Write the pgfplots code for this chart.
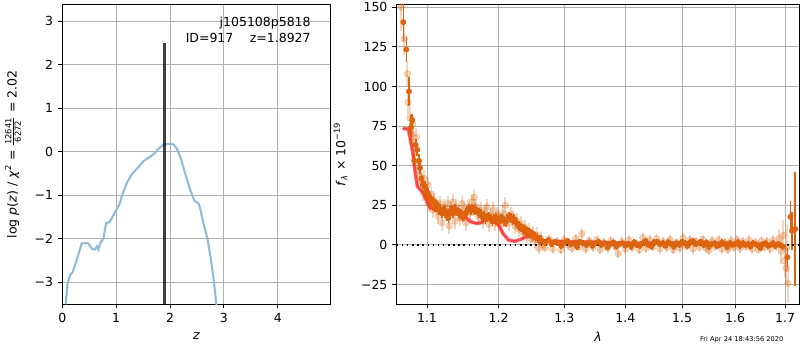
\documentclass[border=0pt]{standalone}
\usepackage{amsmath}
\usepackage{fontspec}
\setmainfont{DejaVu Sans}
\usepackage{pgfplots}
\usepackage{pgfplotstable}
\pgfplotsset{compat=1.18}
\definecolor{pzblue}{RGB}{143,187,217}
\definecolor{dorange}{RGB}{220,100,15}
\definecolor{gridgray}{RGB}{176,176,176}
\definecolor{modelred}{RGB}{255,40,40}

\pgfplotstableread{
z lp
0.062 -3.51
0.099 -3.03
0.143 -2.84
0.192 -2.77
0.254 -2.54
0.304 -2.34
0.36 -2.11
0.42 -2.10
0.484 -2.11
0.546 -2.23
0.608 -2.25
0.64 -2.18
0.67 -2.25
0.70 -2.11
0.763 -2.00
0.812 -1.64
0.874 -1.62
0.98 -1.39
1.06 -1.21
1.12 -0.965
1.197 -0.72
1.29 -0.52
1.414 -0.35
1.507 -0.214
1.60 -0.138
1.693 -0.061
1.786 0.069
1.879 0.16
1.97 0.18
2.065 0.168
2.127 0.069
2.19 -0.12
2.28 -0.50
2.375 -0.886
2.45 -1.12
2.53 -1.19
2.56 -1.31
2.62 -1.65
2.70 -2.03
2.76 -2.49
2.81 -2.95
2.86 -3.52
}\pz

\pgfplotstableread{
lam f
1.0680 73.5
1.0753 73.1
1.0810 58.9
1.0841 46.4
1.0871 37.1
1.0907 35.0
1.0951 32.9
1.0996 27.7
1.1040 23.5
1.1131 21.9
1.1267 20.4
1.1357 21.0
1.1427 22.5
1.1496 19.4
1.1591 14.75
1.1685 13.5
1.1757 14.1
1.1828 17.25
1.1866 18.3
1.1923 15.2
1.1996 12.7
1.2069 6.9
1.2143 3.1
1.2242 2.25
1.2342 3.75
1.2442 5.8
1.2518 5.8
1.2594 3.1
1.2723 2.25
1.2983 2.25
1.3521 1.6
1.4079 1.0
1.4661 1.25
1.5269 1.25
1.5900 1.0
1.6557 0.6
1.6829 0.0
1.7000 -1.5
}\model

\pgfplotstableread{
lam f e
1.0660 150 15
1.0700 130 10
1.0740 108 8
1.0750 90 8
1.0775 80 7
1.0800 70 7
1.0810 76 6
1.0820 65 6
1.0840 58 6
1.0860 68 6
1.0880 50 5
1.0900 44 5
1.0920 40 5
1.0950 33 5
1.0960 42 5
1.0990 30 5
1.1010 38 5
1.1030 26 5
1.1060 32 5
1.1080 22 5
1.1100 28 5
1.1120 24 5
1.1150 18 5
1.1170 26 5
1.1200 14 5
1.1230 24 5
1.1250 20 5
1.1280 26 5
1.1300 12 5
1.1330 22 5
1.1350 27 5
1.1380 15 5
1.1400 24 5
1.1430 20 5
1.1450 17 5
1.1480 26 5
1.1500 22 5
1.1530 14 5
1.1560 24 5
1.1590 20 5
1.1620 27 5
1.1650 30 5
1.1680 24 5
1.1710 18 5
1.1740 22 5
1.1770 15 5
1.1800 20 5
1.1830 24 5
1.1860 13 5
1.1890 18 5
1.1920 22 5
1.1950 14 5
1.1980 19 5
1.2010 17 5
1.2040 13 5
1.2070 20 5
1.2100 25 5
1.2120 16 5
1.2150 14 5
1.2180 19 5
1.2210 17 5
1.2240 12 5
1.2270 15 5
1.2300 10 5
1.2330 13 5
1.2360 8 5
1.2390 11 5
1.2420 6 5
1.2450 9 5
1.2480 4 5
1.2510 7 5
1.2540 3 5
1.2570 6 5
1.2600 -2 4
1.2630 4 4
1.2660 0 4
1.270 -1.5 3
1.276 3.5 3
1.282 -2.5 3
1.288 2.0 3
1.294 -3.0 3
1.300 3.0 3
1.306 0.0 3
1.312 -2.0 3
1.318 4.0 3
1.324 -1.0 3
1.328 7.0 3
1.334 -2.5 3
1.340 2.5 3
1.346 -1.5 3
1.352 3.0 3
1.358 -3.0 3
1.364 1.5 3
1.370 -2.0 3
1.376 2.5 3
1.382 -1.0 3
1.388 -5.5 3
1.394 2.0 3
1.400 -2.5 3
1.406 3.0 3
1.412 -1.5 3
1.418 1.0 3
1.424 -3.0 3
1.430 4.5 3
1.436 -2.0 3
1.442 3.0 3
1.448 -1.0 3
1.454 4.0 3
1.460 -2.5 3
1.466 2.0 3
1.472 -1.5 3
1.478 3.5 3
1.484 -3.0 3
1.490 1.5 3
1.496 -2.0 3
1.502 4.5 3
1.508 -1.0 3
1.514 3.0 3
1.520 -2.5 3
1.526 2.0 3
1.532 -1.5 3
1.538 3.5 3
1.544 -2.0 3
1.550 -3.5 3
1.556 2.5 3
1.562 -1.0 3
1.568 3.0 3
1.574 -2.5 3
1.580 1.5 3
1.586 -3.0 3
1.592 2.5 3
1.598 -1.5 3
1.604 3.0 3
1.610 -2.0 3
1.616 2.0 3
1.622 -1.0 3
1.628 3.0 3
1.634 -2.5 3
1.640 1.5 3
1.646 -3.0 3
1.652 2.5 3
1.658 -1.5 3
1.664 2.0 3
1.670 -2.5 3
1.676 3.0 3
1.682 -1.0 3
1.688 4.0 6
1.692 -4.0 8
1.696 6.0 10
1.699 -10 10
1.7025 -14.8 10
1.7030 -2 15
1.7060 -24.4 12
}\light

\pgfplotstableread{
lam f e
1.0688 140.6 12
1.0727 123.3 8
1.0762 96.9 9
1.0788 73.9 8
1.0805 78.7 4
1.0831 53.1 4
1.0850 63.1 4
1.0871 60.0 4
1.0893 53.1 4
1.0907 48.5 4
1.0925 42.0 3
1.0943 38.1 3
1.0973 37.1 3
1.0990 34.0 3
1.1009 32.9 3
1.1025 31.0 3
1.1040 29.75 3
1.1062 27.0 3
1.1085 27.7 3
1.1108 24.0 3
1.1131 25.6 3
1.1153 22.0 3
1.1175 22.5 3
1.1198 20.0 3
1.1220 21.4 3
1.1243 22.0 3
1.1267 18.3 3
1.1290 17.0 3
1.1312 21.4 3
1.1335 22.0 3
1.1357 19.75 3
1.1380 23.0 3
1.1404 21.4 3
1.1432 20.0 3
1.1460 19.4 3
1.1483 17.5 3
1.1506 18.3 3
1.1529 20.0 3
1.1552 21.4 3
1.1576 23.0 3
1.1600 21.9 3
1.1623 23.0 3
1.1647 21.9 3
1.1670 22.5 3
1.1694 21.0 3
1.1718 20.0 3
1.1742 19.4 3
1.1765 18.0 3
1.1789 18.3 3
1.1813 16.5 3
1.1837 17.25 3
1.1861 18.0 3
1.1886 16.25 3
1.1910 15.0 3
1.1934 16.25 3
1.1958 17.0 3
1.1982 15.6 3
1.2006 15.0 3
1.2031 16.25 3
1.2055 17.0 3
1.2080 15.2 3
1.2104 14.5 3
1.2128 16.25 3
1.2153 17.5 3
1.2179 17.25 3
1.2203 15.5 3
1.2228 16.25 3
1.2252 14.5 3
1.2277 13.1 3
1.2302 12.0 3
1.2328 11.0 3
1.2352 10.0 3
1.2377 9.4 3
1.2402 9.0 3
1.2427 8.5 3
1.2452 7.5 3
1.2478 6.9 3
1.2503 6.5 3
1.2528 5.8 3
1.2553 5.0 3
1.2579 4.4 3
1.2605 3.5 3
1.2631 3.1 3
1.265 2.5 2
1.270 1.5 2
1.275 3.0 2
1.280 0.5 2
1.285 2.0 2
1.290 1.0 2
1.295 -0.5 2
1.300 1.5 2
1.305 2.5 2
1.310 0.5 2
1.315 1.0 2
1.320 -1.0 2
1.325 2.0 2
1.330 1.0 2
1.335 0.0 2
1.340 1.5 2
1.345 -0.5 2
1.350 1.0 2
1.355 2.0 2
1.360 0.0 2
1.365 1.0 2
1.370 -1.5 2
1.375 0.5 2
1.380 1.5 2
1.385 -1.0 2
1.390 0.5 2
1.395 1.0 2
1.400 -0.5 2
1.405 0.5 2
1.410 -1.0 2
1.415 1.5 2
1.420 0.0 2
1.425 -0.5 2
1.430 1.0 2
1.435 2.5 2
1.440 0.0 2
1.445 -1.0 2
1.450 1.5 2
1.455 2.0 2
1.460 0.5 2
1.465 1.0 2
1.470 -0.5 2
1.475 1.5 2
1.480 0.5 2
1.485 -1.0 2
1.490 1.0 2
1.495 0.0 2
1.500 2.0 2
1.505 1.0 2
1.510 -0.5 2
1.515 1.5 2
1.520 2.5 2
1.525 0.5 2
1.530 1.0 2
1.535 2.0 2
1.540 0.0 2
1.545 1.5 2
1.550 -1.0 2
1.555 0.5 2
1.560 1.0 2
1.565 -0.5 2
1.570 0.0 2
1.575 1.5 2
1.580 0.5 2
1.585 -1.5 2
1.590 1.0 2
1.595 0.0 2
1.600 0.5 2
1.605 1.5 2
1.610 -0.5 2
1.615 1.0 2
1.620 0.0 2
1.625 0.5 2
1.630 -1.0 2
1.635 1.0 2
1.640 0.5 2
1.645 -0.5 2
1.650 -2.0 2
1.655 0.5 2
1.660 1.0 2
1.665 -0.5 2
1.670 0.0 2
1.675 1.0 2
1.680 -0.5 2
1.685 0.5 2
1.690 0.0 2
1.695 -1.0 2
1.7048 -7.75 6
1.7110 17.7 10
1.7145 8.9 12
1.7214 10.0 36
}\dark

\pgfplotsset{
  myaxis/.style={
    scale only axis,
    anchor=south west,
    axis line style={black, line width=0.72pt},
    tick pos=left,
    tick align=outside,
    major tick length=3.15pt,
    every tick/.style={black, line width=0.72pt},
    grid=major,
    major grid style={gridgray, line width=0.72pt},
    minor tick num=0,
    /pgf/number format/assume math mode=true,
  }
}

\begin{document}
\begin{tikzpicture}[font=\fontsize{9}{11}\selectfont]
\useasboundingbox (0,0) rectangle (576pt,252pt);
\begin{axis}[myaxis,
  at={(44.86pt,33.12pt)},
  width=193.2pt, height=215.5pt,
  xmin=0, xmax=4.98, ymin=-3.5, ymax=3.38,
  xtick={0,1,2,3,4},
  ytick={-3,-2,-1,0,1,2,3},
  yticklabels={−3,−2,−1,0,1,2,3},
  xlabel={\textit{z}},
  ylabel={log \textit{p}(\textit{z}) / \textit{χ}\textsuperscript{2} = $\frac{\text{12641}}{\text{6272}}$ = 2.02},
  ylabel style={yshift=3pt},
]
\addplot[pzblue, line width=1.5pt, no marks] table[x=z, y=lp] {\pz};
\addplot[black, opacity=0.75, line width=2.1pt, no marks] coordinates {(1.8927,-4) (1.8927,2.5)};
\node[anchor=east] at (axis cs:4.70,2.95) {j105108p5818};
\node[anchor=east] at (axis cs:4.70,2.62) {ID=917\hspace{9pt} z=1.8927};
\end{axis}

\begin{axis}[myaxis,
  at={(285.6pt,33.12pt)},
  width=289.9pt, height=215.5pt,
  xmode=log,
  xmin=1.0602, xmax=1.7298, ymin=-37.3, ymax=151.6,
  xtick={1.1,1.2,1.3,1.4,1.5,1.6,1.7},
  xticklabels={1.1,1.2,1.3,1.4,1.5,1.6,1.7},
  minor xtick={},
  ytick={-25,0,25,50,75,100,125,150},
  yticklabels={−25,0,25,50,75,100,125,150},
  xlabel={\textit{λ}},
  ylabel={\textit{f}$_{\text{\textit{λ}}}$ × 10$^{\text{−19}}$},
  ylabel style={yshift=3pt},
]
\addplot[only marks, mark=*, mark size=2.4pt, dorange, opacity=0.28,
  mark options={draw=none, fill=dorange},
  error bars/.cd, y dir=both, y explicit,
  error bar style={line width=1.4pt, dorange}, error mark=none]
  table[x=lam, y=f, y error=e] {\light};
\addplot[modelred, opacity=0.55, line width=2.6pt, no marks] table[x=lam, y=f] {\model};
\addplot[only marks, mark=*, mark size=1.9pt, dorange,
  mark options={draw=none, fill=dorange},
  error bars/.cd, y dir=both, y explicit,
  error bar style={line width=1.2pt, dorange}, error mark=none]
  table[x=lam, y=f, y error=e] {\dark};
\addplot[modelred, opacity=0.7, line width=1.8pt, no marks] table[x=lam, y=f] {\model};
\addplot[black, line width=1.1pt, dash pattern=on 1.1pt off 2.6pt, no marks] coordinates {(1.0602,0) (1.7298,0)};
\end{axis}
\node[anchor=east, font=\fontsize{4.8}{5.5}\selectfont] at (567.6pt,7.7pt) {Fri Apr 24 18:43:56 2020};
\end{tikzpicture}
\end{document}
